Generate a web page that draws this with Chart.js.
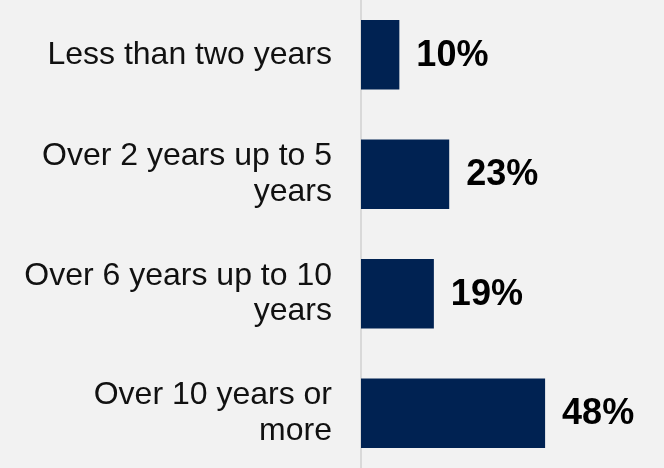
<!DOCTYPE html>
<html>
<head>
<meta charset="utf-8">
<script src="https://cdn.jsdelivr.net/npm/chart.js@4/dist/chart.umd.min.js"></script>
<style>
  html, body { margin: 0; padding: 0; background: #f2f2f2; overflow: hidden; }
  #wrap { position: absolute; left: 0; top: -5px; width: 664px; height: 478px; }
</style>
</head>
<body>
<div id="wrap"><canvas id="chart" width="664" height="478"></canvas></div>
<script>
// Time in role, share of respondents
const categories = [
  'Less than two years',
  ['Over 2 years up to 5', 'years'],
  ['Over 6 years up to 10', 'years'],
  ['Over 10 years or', 'more']
];
const shares = [10, 23, 19, 48];

const FONT = '"Liberation Sans", Arial, "DejaVu Sans", sans-serif';

// Writes each bar's percentage just past its end
const valueLabels = {
  id: 'valueLabels',
  afterDatasetsDraw(chart) {
    const ctx = chart.ctx;
    const meta = chart.getDatasetMeta(0);
    ctx.save();
    ctx.font = 'bold 36px ' + FONT;
    ctx.fillStyle = '#000000';
    ctx.textAlign = 'left';
    ctx.textBaseline = 'middle';
    meta.data.forEach((bar, i) => {
      ctx.fillText(shares[i] + '%', bar.x + 17, bar.y + 1);
    });
    ctx.restore();
  }
};

new Chart(document.getElementById('chart'), {
  type: 'bar',
  data: {
    labels: categories,
    datasets: [{
      data: shares,
      backgroundColor: '#002252',
      borderWidth: 0,
      categoryPercentage: 1,
      barPercentage: 0.583
    }]
  },
  options: {
    indexAxis: 'y',
    responsive: false,
    animation: false,
    layout: { padding: 0 },
    plugins: {
      legend: { display: false },
      tooltip: { enabled: false }
    },
    scales: {
      x: {
        display: false,
        min: 0,
        max: 79
      },
      y: {
        afterFit(scale) {
          scale.width = 361;
          scale.paddingTop = 0;
          scale.paddingBottom = 0;
        },
        grid: { display: false, drawTicks: false },
        border: { display: true, color: '#d9d9d9', width: 2 },
        ticks: {
          padding: 29,
          color: '#111111',
          font: { family: FONT, size: 32, lineHeight: 1.1 }
        }
      }
    }
  },
  plugins: [valueLabels]
});
</script>
</body>
</html>
